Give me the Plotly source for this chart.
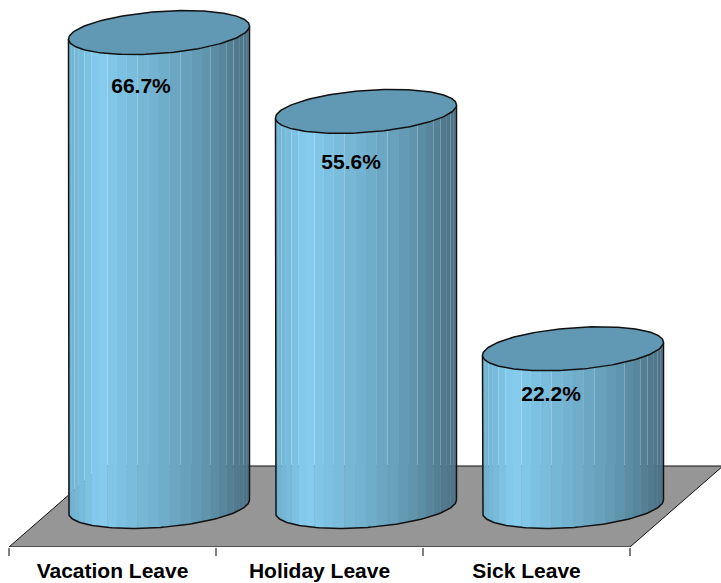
import numpy as np
import plotly.graph_objects as go

categories = ["Vacation Leave", "Holiday Leave", "Sick Leave"]
values = [66.7, 55.6, 22.2]
value_labels = ["66.7%", "55.6%", "22.2%"]

# chart geometry, in axis units
PX_PER_UNIT_X = 207.0
PX_PER_UNIT_Y = 7.106
DEPTH = 0.2246           # oblique shift of the bars from the front of the floor
RADIUS_X = 90.5 / PX_PER_UNIT_X
TILT = 6.5 / PX_PER_UNIT_Y
RADIUS_Y = 21.0 / PX_PER_UNIT_Y
Y_MIN, Y_MAX = -5.70, 71.28
X_MIN, X_FRONT_MAX = -0.5, 2.5
X_MAX = X_FRONT_MAX + 91 / PX_PER_UNIT_X
N_STRIPS = 26
label_dx = [-0.087, -0.072, -0.106]
label_dy = [-7.8, -7.35, -6.6]

TOP_COLOR = "#6198b4"
FLOOR_COLOR = "#969696"
stops_pos = [0.0, 0.04, 0.17, 0.3, 0.5, 0.75, 0.93, 1.0]
stops_rgb = np.array([
    [108, 175, 205], [114, 183, 214], [133, 205, 240], [124, 192, 224], [113, 176, 205],
    [96, 150, 175], [80, 122, 143], [74, 113, 133],
], dtype=float)


def strip_color(frac):
    rgb = [np.interp(frac, stops_pos, stops_rgb[:, k]) for k in range(3)]
    return "rgb(%d,%d,%d)" % tuple(round(c) for c in rgb)


def ring(center, value, t):
    return center + RADIUS_X * np.cos(t), value + TILT * np.cos(t) + RADIUS_Y * np.sin(t)


fig = go.Figure()

# floor
floor_x = [X_MIN, X_FRONT_MAX, X_FRONT_MAX + 2 * DEPTH, X_MIN + 2 * DEPTH, X_MIN]
floor_y = [Y_MIN, Y_MIN, -Y_MIN, -Y_MIN, Y_MIN]
fig.add_trace(go.Scatter(x=floor_x, y=floor_y, mode="lines", fill="toself",
                         fillcolor=FLOOR_COLOR, line=dict(color="#111111", width=1),
                         hoverinfo="skip", cliponaxis=False, showlegend=False))

for i, v in enumerate(values):
    c = i + DEPTH
    edges = np.linspace(np.pi, 2 * np.pi, N_STRIPS + 1)
    for k in range(N_STRIPS):
        t = np.linspace(edges[k], edges[k + 1], 5)
        xb, yb = ring(c, 0.0, t)
        xt, yt = ring(c, v, t[::-1])
        frac = (np.cos(t[2]) + 1) / 2
        fig.add_trace(go.Scatter(
            x=np.r_[xb, xt, xb[0]], y=np.r_[yb, yt, yb[0]],
            mode="lines", fill="toself", fillcolor=strip_color(frac),
            line=dict(width=0), hoverinfo="skip", cliponaxis=False, showlegend=False))
    # outline of side + base
    t = np.linspace(np.pi, 2 * np.pi, 90)
    xb, yb = ring(c, 0.0, t)
    xl, yl = ring(c, v, np.array([np.pi]))
    xr, yr = ring(c, v, np.array([2 * np.pi]))
    fig.add_trace(go.Scatter(x=np.r_[xl, xb, xr], y=np.r_[yl, yb, yr], mode="lines",
                             line=dict(color="#111111", width=1.5), hoverinfo="skip",
                             cliponaxis=False, showlegend=False))
    # top
    t = np.linspace(0, 2 * np.pi, 180)
    xt, yt = ring(c, v, t)
    fig.add_trace(go.Scatter(x=xt, y=yt, mode="lines", fill="toself", fillcolor=TOP_COLOR,
                             line=dict(color="#111111", width=1.5), hoverinfo="skip",
                             cliponaxis=False, showlegend=False))

fig.add_trace(go.Scatter(
    x=[i + DEPTH + d for i, d in enumerate(label_dx)],
    y=[v + d for v, d in zip(values, label_dy)],
    mode="text", text=value_labels, textposition="middle center",
    textfont=dict(family="Liberation Sans", size=21, color="#000000"),
    texttemplate="<b>%{text}</b>", hoverinfo="skip", cliponaxis=False, showlegend=False))

fig.update_layout(
    width=721, height=583, autosize=False,
    margin=dict(l=9, r=0, t=0, b=36, pad=0),
    paper_bgcolor="white", plot_bgcolor="rgba(0,0,0,0)", showlegend=False,
    xaxis=dict(
        range=[X_MIN, X_MAX], tickmode="array", tickvals=[0, 1, 2], automargin=False,
        ticktext=["<b>%s</b>" % s for s in categories], showgrid=False, zeroline=False,
        showline=False, ticks="outside", ticklen=5, tickcolor="rgba(0,0,0,0)",
        tickfont=dict(family="Liberation Sans", size=21, color="#000000"),
        minor=dict(tickmode="array", tickvals=[-0.5, 0.5, 1.5, 2.5], ticks="outside",
                   ticklen=8, tickwidth=1.5, tickcolor="#7f7f7f", showgrid=False),
        fixedrange=True),
    yaxis=dict(range=[Y_MIN, Y_MAX], visible=False, fixedrange=True, automargin=False),
)

fig.write_html("out.html", config={"displayModeBar": False},
               post_script="document.body.style.margin='0';document.body.style.overflow='hidden';")
